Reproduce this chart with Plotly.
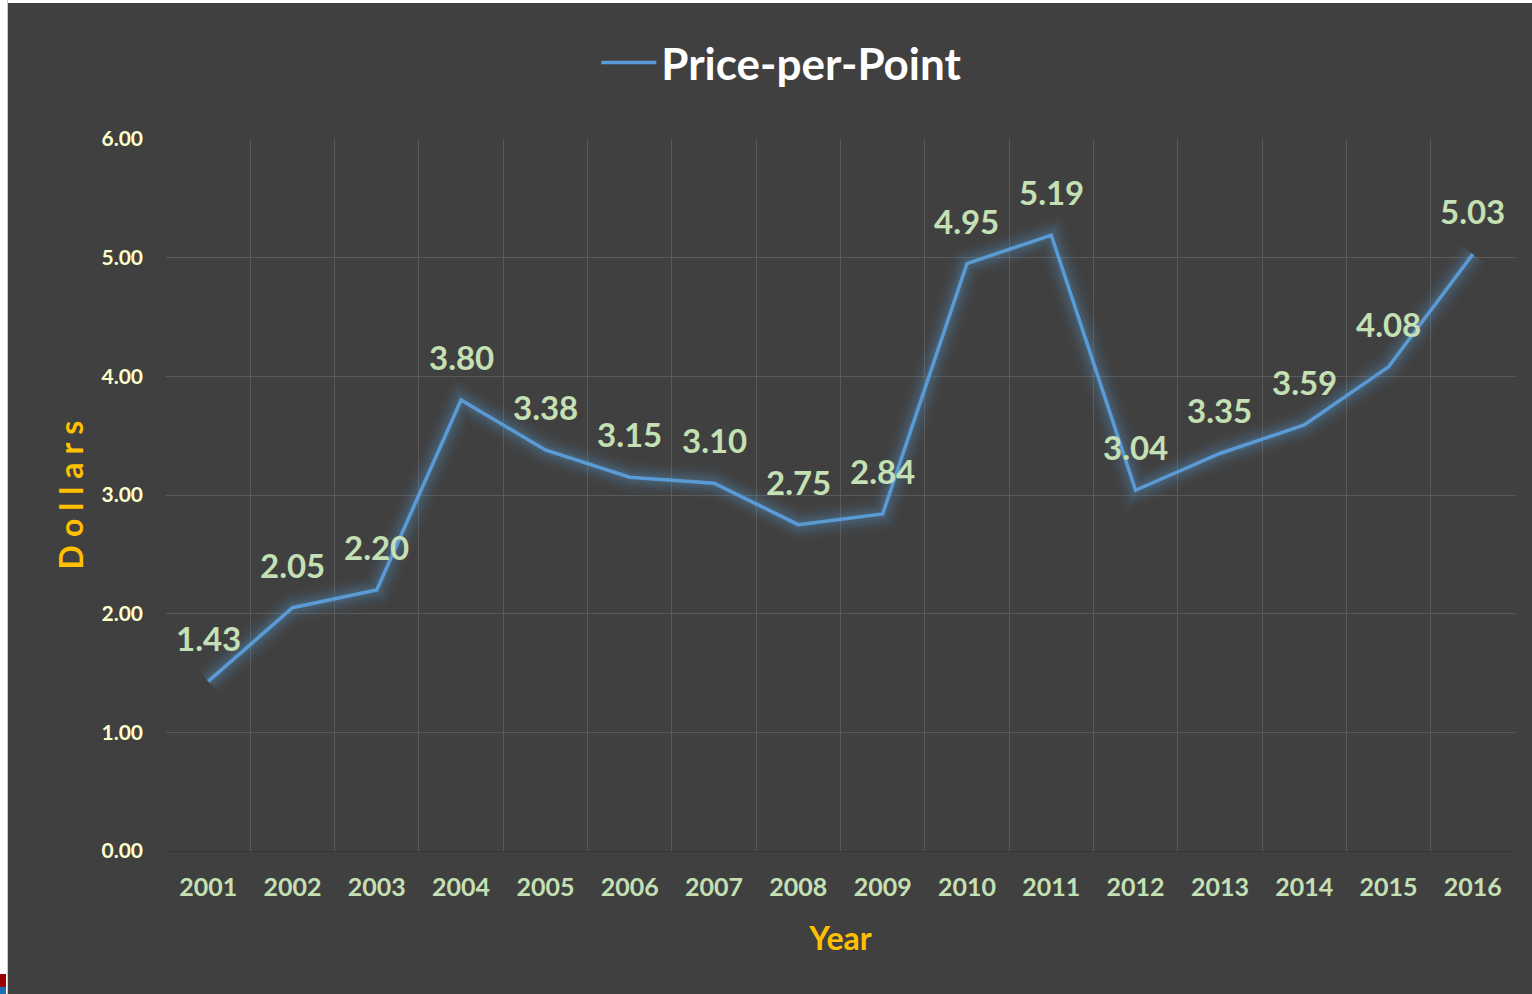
import plotly.graph_objects as go

years = ["2001", "2002", "2003", "2004", "2005", "2006", "2007", "2008",
         "2009", "2010", "2011", "2012", "2013", "2014", "2015", "2016"]
price_per_point = [1.43, 2.05, 2.20, 3.80, 3.38, 3.15, 3.10, 2.75,
                   2.84, 4.95, 5.19, 3.04, 3.35, 3.59, 4.08, 5.03]
y_ticks = [0, 1, 2, 3, 4, 5, 6]
y_tick_text = ["0.00", "1.00", "2.00", "3.00", "4.00", "5.00", "6.00"]

BG = "#404040"
LINE = "#5B9BD5"
LABEL = "#C5E0B4"
GOLD = "#FFC000"
FONT = "Lato"

fig = go.Figure()

# soft glow under the line
for w, a in [(32, 0.04), (25, 0.05), (19, 0.07), (13, 0.09), (8, 0.12)]:
    fig.add_trace(go.Scatter(
        x=years, y=price_per_point, mode="lines",
        line=dict(color=f"rgba(91,155,213,{a})", width=w),
        hoverinfo="skip", showlegend=False))

fig.add_trace(go.Scatter(
    x=years, y=price_per_point, mode="lines", name="Price-per-Point",
    line=dict(color=LINE, width=3.5)))

# data labels (category axis coordinates are the category indices)
for i, v in enumerate(price_per_point):
    fig.add_annotation(x=i, y=v, xref="x", yref="y", text=f"{v:.2f}",
                       showarrow=False, yshift=43,
                       font=dict(family=FONT, size=33, color=LABEL, weight="bold"))

fig.update_layout(
    width=1524, height=991,
    paper_bgcolor=BG, plot_bgcolor=BG,
    margin=dict(l=158, r=17, t=136, b=143),
    font=dict(family=FONT),
    showlegend=True,
    legend=dict(orientation="h", x=0.4565, xanchor="center", y=1.107,
                yanchor="middle", font=dict(family=FONT, size=44, color="white",
                                           weight="bold"),
                itemwidth=55, bgcolor="rgba(0,0,0,0)"),
    xaxis=dict(type="category", categoryorder="array", categoryarray=years,
               range=[-0.5, 15.5], tickson="boundaries", showgrid=True,
               gridcolor="#5a5a5a", gridwidth=1, automargin=False,
               showline=True, linecolor="#363636", linewidth=1,
               ticks="", ticklabelstandoff=14, tickangle=0,
               tickfont=dict(family=FONT, size=25, color=LABEL, weight="bold"),
               title=dict(text="Year", standoff=27,
                          font=dict(family=FONT, size=32, color=GOLD, weight="bold")),
               zeroline=False),
    yaxis=dict(range=[0, 6], tickvals=y_ticks, ticktext=y_tick_text,
               showgrid=True, gridcolor="#5a5a5a", gridwidth=1, automargin=False,
               zeroline=False, showline=False, ticks="",
               ticklabelstandoff=22,
               tickfont=dict(family=FONT, size=21, color="#FFFFCC", weight="bold"),
               title=dict(text="D\u2005o\u2005l\u2005l\u2005a\u2005r\u2005s", standoff=8,
                          font=dict(family=FONT, size=32, color=GOLD, weight="bold"))),
)

# page placement like the original screenshot: thin white edge at top and left,
# with the small coloured marks in the bottom-left corner
post = (
    "document.body.style.margin='3px 0 0 8px';"
    "document.body.style.overflow='hidden';"
    "document.body.style.background='white';"
    "function mk(css){var d=document.createElement('div');"
    "d.style.cssText='position:fixed;'+css;document.body.appendChild(d);}"
    "mk('left:7px;top:0;width:1px;height:994px;background:#c8c8c8;');"
    "mk('left:0;top:974px;width:6px;height:13px;background:#9b0000;');"
    "mk('left:0;top:987px;width:6px;height:7px;background:#1f6fb4;');"
)

fig.write_html("out.html", post_script=post)
